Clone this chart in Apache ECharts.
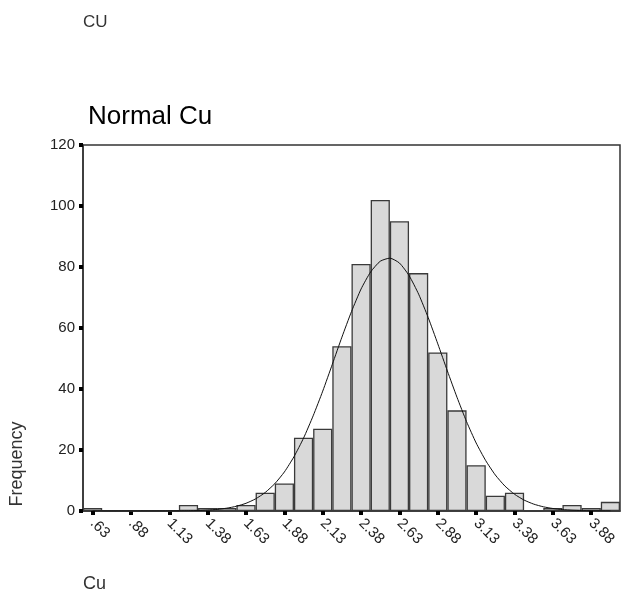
<!DOCTYPE html>
<html>
<head>
<meta charset="utf-8">
<script src="https://cdn.jsdelivr.net/npm/echarts@6/dist/echarts.min.js"></script>
<style>
html,body{margin:0;padding:0;background:#fff;}
#chart{width:623px;height:595px;}
</style>
</head>
<body>
<div id="chart"></div>
<script>
// Bin centre labels (bin width 0.125)
const categories = ['.63','.75','.88','1.00','1.13','1.25','1.38','1.50','1.63','1.75','1.88','2.00','2.13','2.25',
  '2.38','2.50','2.63','2.75','2.88','3.00','3.13','3.25','3.38','3.50','3.63','3.75','3.88','4.00'];
// Frequencies
const frequency = [1,0,0,0,0,2,1,1,2,6,9,24,27,54,81,102,95,78,52,33,15,5,6,0,1,2,1,3];
// Fitted normal curve at half-bin steps
const curveX = [0.625,0.75,0.875,1.0,1.125,1.25,1.3125,1.375,1.4375,1.5,1.5625,1.625,1.6875,1.75,1.8125,1.875,1.9375,
  2.0,2.0625,2.125,2.1875,2.25,2.3125,2.375,2.4375,2.5,2.5625,2.625,2.6875,2.75,2.8125,2.875,2.9375,3.0,3.0625,
  3.125,3.1875,3.25,3.3125,3.375,3.4375,3.5,3.5625,3.625,3.6875,3.75,3.8125,3.875,4.0];
const curveY = [0,0,0,0.01,0.02,0.09,0.16,0.3,0.54,0.93,1.56,2.53,3.98,6.07,8.96,12.8,17.8,
  23.9,31.2,39.3,48.1,57,65.4,72.8,78.4,81.9,82.9,81.3,77.2,71.1,63.4,54.8,45.9,37.3,29.3,
  22.3,16.5,11.8,8.18,5.5,3.58,2.26,1.38,0.82,0.47,0.26,0.14,0.07,0.02];
const yTicks = {min:0, max:120, interval:20};

const chart = echarts.init(document.getElementById('chart'), null, {renderer:'canvas'});
const font = 'Liberation Sans, Arial, sans-serif';
chart.setOption({
  animation:false,
  backgroundColor:'#fff',
  title:{text:'Normal Cu', left:83, top:99, textStyle:{fontFamily:font, fontSize:26, fontWeight:'normal', color:'#000'}},
  graphic:[
    {type:'text', left:83, top:14, style:{text:'CU', font:'17px '+font, fill:'#333'}},
    {type:'text', left:83, top:575, style:{text:'Cu', font:'18px '+font, fill:'#333'}},
    {type:'text', x:17, y:464, rotation:Math.PI/2, style:{text:'Frequency', font:'18px '+font, fill:'#333', align:'center', verticalAlign:'middle'}}
  ],
  grid:{left:83, right:3, top:145, bottom:84, show:true, borderColor:'#333', borderWidth:1.5, backgroundColor:'transparent'},
  xAxis:[{
    type:'category', data:categories, boundaryGap:true,
    axisLine:{lineStyle:{color:'#333', width:1.5}},
    axisTick:{show:true, interval:1, alignWithLabel:true, length:4, lineStyle:{color:'#000', width:4}},
    axisLabel:{interval:1, rotate:-45, margin:10, fontFamily:font, fontSize:15, color:'#222'},
    splitLine:{show:false}
  },{
    type:'value', min:0.5625, max:4.0625, show:false, position:'bottom', splitLine:{show:false}
  }],
  yAxis:{
    type:'value', min:yTicks.min, max:yTicks.max, interval:yTicks.interval,
    axisLine:{show:true, lineStyle:{color:'#333', width:1.5}},
    axisTick:{show:true, length:4, lineStyle:{color:'#000', width:4}},
    axisLabel:{margin:8, fontFamily:font, fontSize:15, color:'#222'},
    splitLine:{show:false}
  },
  series:[
    {type:'bar', data:frequency, barCategoryGap:'0%', barGap:'-100%', xAxisIndex:0,
     itemStyle:{color:'#d9d9d9', borderColor:'#3a3a3a', borderWidth:1.3}, z:2},
    {type:'line', xAxisIndex:1, data:curveX.map((x,i)=>[x,curveY[i]]), smooth:0.2, symbol:'none',
     lineStyle:{color:'#111', width:1}, z:3}
  ]
});
</script>
</body>
</html>
